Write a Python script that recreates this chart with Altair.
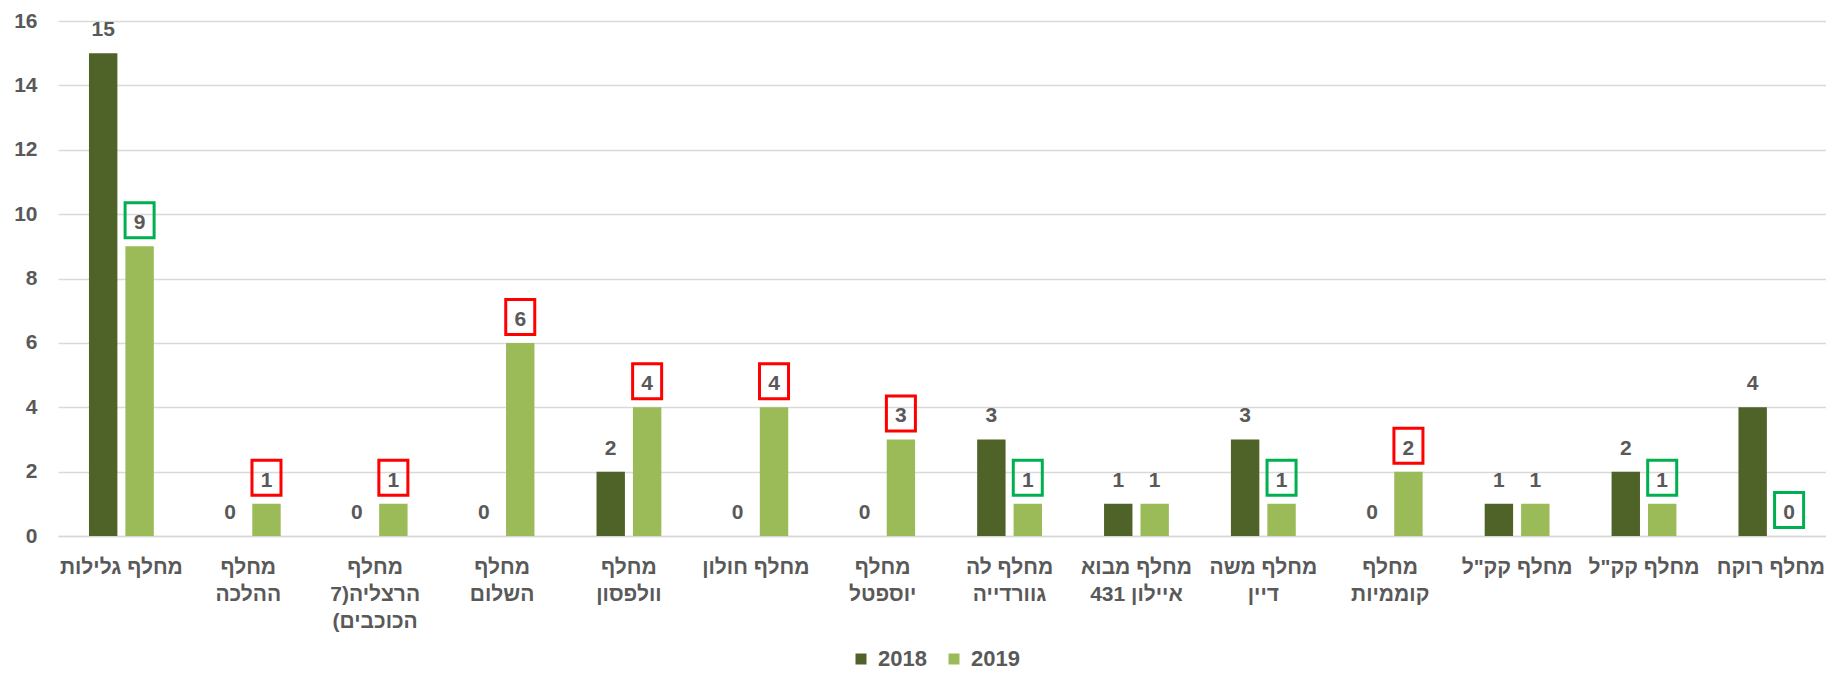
import altair as alt
import pandas as pd

categories = [
    "מחלף גלילות",
    "מחלף\nההלכה",
    "מחלף\n7)הרצליה\n(הכוכבים",
    "מחלף\nהשלום",
    "מחלף\nוולפסון",
    "מחלף חולון",
    "מחלף\nיוספטל",
    "מחלף לה\nגוורדייה",
    "מחלף מבוא\n431 איילון",
    "מחלף משה\nדיין",
    "מחלף\nקוממיות",
    "מחלף קק\"ל",
    "מחלף קק\"ל\u200b",
    "מחלף רוקח",
]
years = ["2018", "2019"]
v2018 = [15, 0, 0, 0, 2, 0, 0, 3, 1, 3, 0, 1, 2, 4]
v2019 = [9, 1, 1, 6, 4, 4, 3, 1, 1, 1, 2, 1, 1, 0]
box2019 = ["green", "red", "red", "red", "red", "red", "red", "green", "none",
           "green", "red", "none", "green", "green"]

rows = []
for i, c in enumerate(categories):
    rows.append({"cat": c, "year": "2018", "value": v2018[i], "box": "none"})
    rows.append({"cat": c, "year": "2019", "value": v2019[i], "box": box2019[i]})
df = pd.DataFrame(rows)

FONT = "Liberation Sans"
GRAY = "#595959"
DARK = "#4F6228"
LIGHT = "#9BBB59"

x = alt.X(
    "cat:N",
    sort=categories,
    scale=alt.Scale(paddingInner=0.489, paddingOuter=0.2115, align=0.577),
    axis=alt.Axis(
        title=None, labelAngle=0, labelExpr="split(datum.label, '\\n')",
        ticks=False, tickSize=0, labelPadding=20, labelLineHeight=27,
        labelBaseline="top", labelFont=FONT, labelFontSize=21,
        labelFontWeight="bold", labelColor=GRAY, labelLimit=0,
        domainColor="#D9D9D9", domainWidth=1.5, grid=False,
    ),
)
xo = alt.XOffset("year:N", sort=years, scale=alt.Scale(paddingInner=0.22))
y = alt.Y(
    "value:Q",
    scale=alt.Scale(domain=[0, 16], nice=False),
    axis=alt.Axis(
        title=None, values=list(range(0, 17, 2)), ticks=False, tickSize=0,
        domain=False, labelPadding=21, labelFont=FONT, labelFontSize=21,
        labelFontWeight="bold", labelColor=GRAY, gridColor="#D9D9D9",
        gridWidth=1.5,
    ),
)

base = alt.Chart(df)

bars = base.mark_bar().encode(
    x=x, xOffset=xo, y=y,
    color=alt.Color(
        "year:N", sort=years,
        scale=alt.Scale(domain=years, range=[DARK, LIGHT]),
        legend=alt.Legend(
            orient="none", legendX=792, legendY=627, direction="horizontal",
            title=None, symbolType="square", symbolSize=121,
            symbolStrokeWidth=0, labelFont=FONT, labelFontSize=22,
            labelFontWeight="bold", labelColor=GRAY, columnPadding=16,
            labelOffset=6, padding=0,
        ),
    ),
)

labels = base.mark_text(
    font=FONT, fontSize=21, fontWeight="bold", color=GRAY,
    baseline="alphabetic", dy=-17,
).encode(x=x, xOffset=xo, y=y, text=alt.Text("value:Q"))

boxes = base.transform_filter(alt.datum.box != "none").mark_point(
    shape="M-0.829,-1L0.829,-1L0.829,1L-0.829,1Z", size=1225, filled=False,
    strokeWidth=3, opacity=1, yOffset=-26,
).encode(
    x=x, xOffset=xo, y=y,
    stroke=alt.Stroke("box:N", scale=alt.Scale(domain=["red", "green"],
                      range=["#FF0000", "#00B050"]), legend=None),
)

chart = alt.layer(bars, labels, boxes).properties(
    width=1768, height=515,
    padding={"left": 50, "top": 13, "right": 0, "bottom": 137},
    autosize=alt.AutoSizeParams(type="none"),
).configure_view(stroke=None)

chart.save("out.html", embed_options={"renderer": "svg", "actions": False})
